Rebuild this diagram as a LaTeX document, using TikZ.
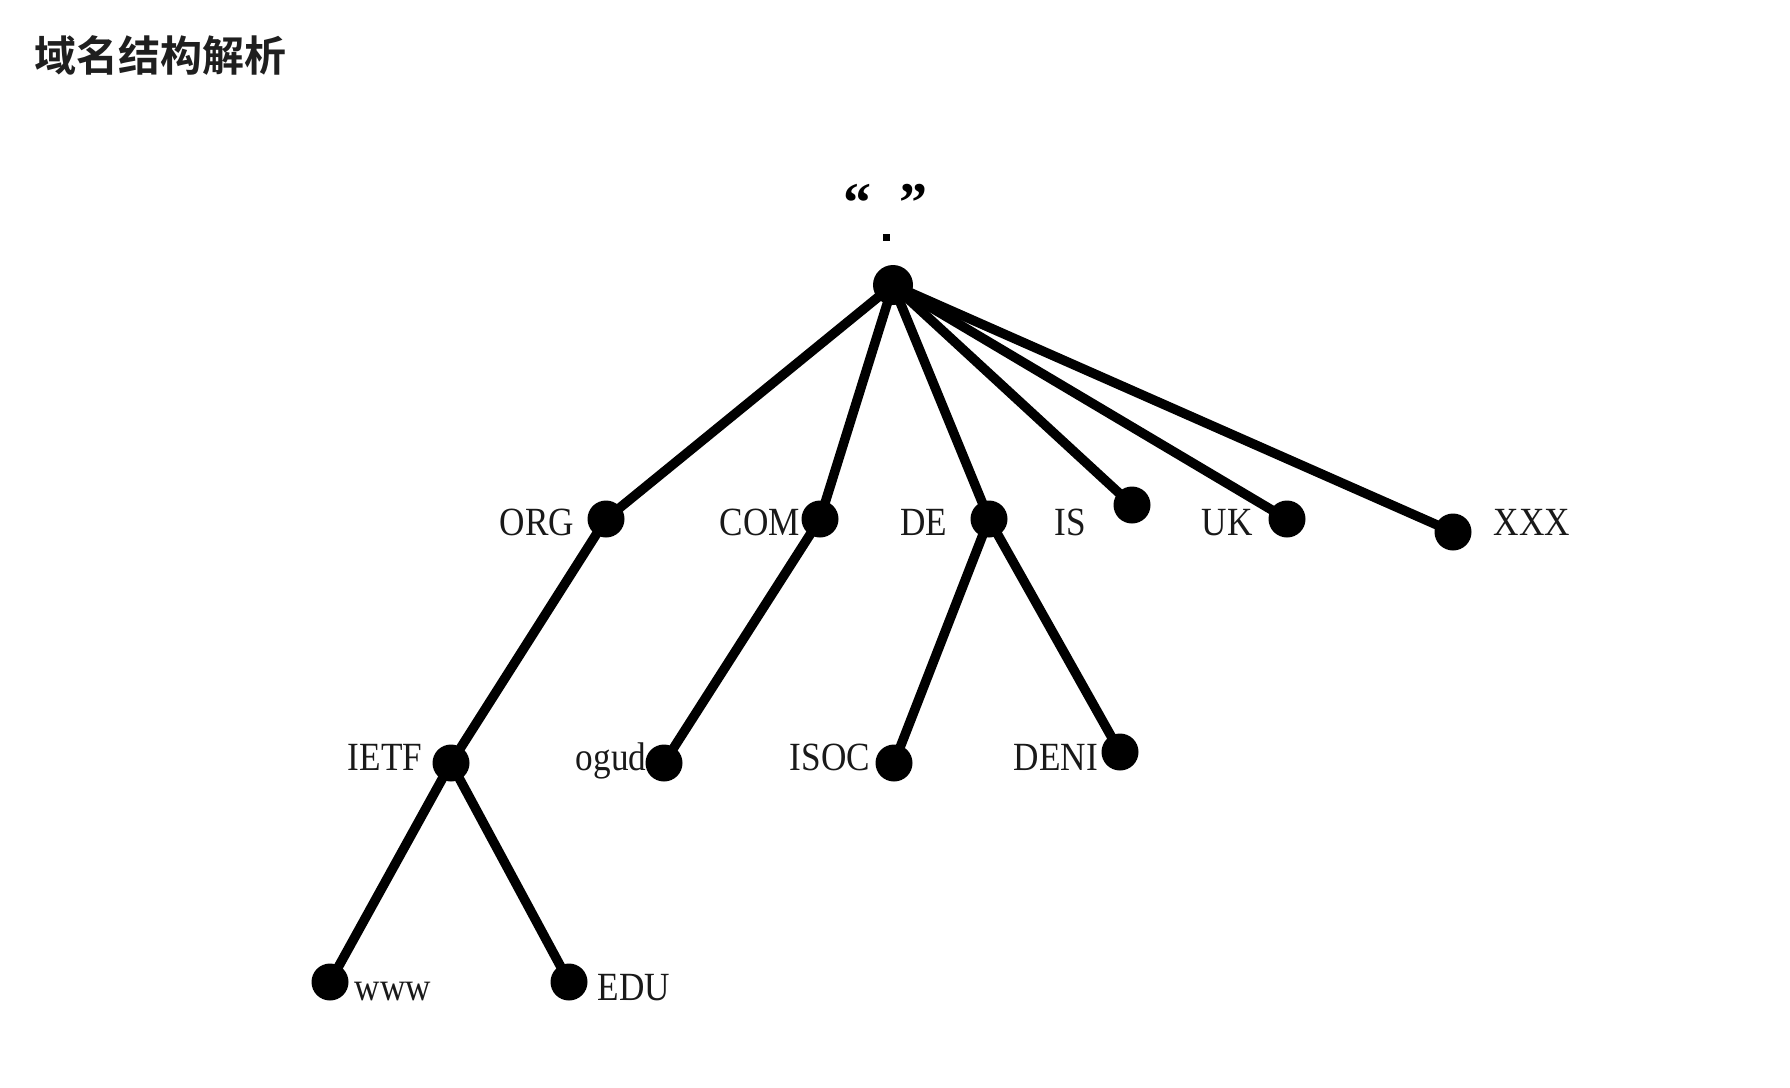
\documentclass[tikz,border=0pt]{standalone}
\usepackage{fontspec}
\newfontfamily\cjkbold{Noto Sans CJK SC Bold}
\newfontfamily\lblfont[FakeStretch=0.88]{Liberation Serif}
\newfontfamily\qfont{Liberation Serif}
\begin{document}
\begin{tikzpicture}[x=1pt,y=-1pt,
  dot/.style={circle,fill=black,inner sep=0pt,minimum size=37pt},
  edge/.style={line width=9.5pt,black},
  lbl/.style={inner sep=0pt,anchor=base,font=\lblfont\fontsize{40}{40}\selectfont,text=black!90}]
\useasboundingbox (0,0) rectangle (1790,1087);
\fill[white] (0,0) rectangle (1790,1087);
\node[anchor=west,inner sep=0pt,font=\cjkbold\fontsize{42}{42}\selectfont,text=black!88] (title) at (34,55) {域名结构解析};
% root label
\node[inner sep=0pt,font=\qfont\bfseries\fontsize{56}{56}\selectfont] (ql) at (857,203) {“};
\node[inner sep=0pt,font=\qfont\bfseries\fontsize{56}{56}\selectfont] (qr) at (913,203) {”};
\node[inner sep=0pt,fill=black,minimum size=7pt] (qdot) at (886,237) {};
% dots
\node[dot,minimum size=40pt] (root) at (893,285) {};
\node[dot] (org) at (606,519) {};
\node[dot] (com) at (820,519) {};
\node[dot] (de) at (989,519) {};
\node[dot] (is) at (1132,505) {};
\node[dot] (uk) at (1287,519) {};
\node[dot] (xxx) at (1453,532) {};
\node[dot] (ietf) at (451,763) {};
\node[dot] (ogud) at (664,763) {};
\node[dot] (isoc) at (894,763) {};
\node[dot] (denic) at (1120,752) {};
\node[dot] (www) at (330,982) {};
\node[dot] (edu) at (569,982) {};
% edges
\foreach \a/\b in {root/org,root/com,root/de,root/is,root/uk,root/xxx,org/ietf,com/ogud,de/isoc,de/denic,ietf/www,ietf/edu}
  \draw[edge] (\a.center) -- (\b.center);
% labels
\node[lbl] (tORG) at (537,535) {ORG};
\node[lbl] (tCOM) at (760,535) {COM};
\node[lbl] (tDE) at (924,535) {DE};
\node[lbl] (tIS) at (1070,535) {IS};
\node[lbl] (tUK) at (1227,535) {UK};
\node[lbl] (tXXX) at (1532,535) {XXX};
\node[lbl] (tIETF) at (385,770) {IETF};
\node[lbl] (tOGUD) at (611,770) {ogud};
\node[lbl] (tISOC) at (830,770) {ISOC};
\node[lbl] (tDENI) at (1056,770) {DENI};
\node[lbl] (tWWW) at (393,1000) {www};
\node[lbl] (tEDU) at (634,1000) {EDU};
\end{tikzpicture}
\end{document}
